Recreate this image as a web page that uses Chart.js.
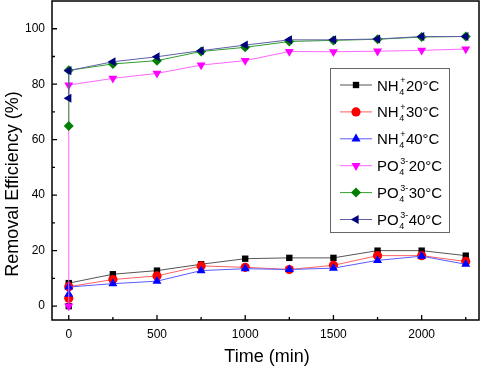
<!DOCTYPE html>
<html>
<head>
<meta charset="utf-8">
<script src="https://cdn.jsdelivr.net/npm/chart.js@4"></script>
<style>
html,body{margin:0;padding:0;background:#fff;}
#wrap{width:484px;height:367px;position:relative;}
</style>
</head>
<body>
<div id="wrap"><canvas id="c" width="484" height="367"></canvas></div>
<script>
// ---- data ----
const times = [0, 0, 250, 500, 750, 1000, 1250, 1500, 1750, 2000, 2250];
const nh4_20 = [0, 8.3, 11.5, 12.8, 15.1, 17.1, 17.4, 17.4, 20.0, 20.0, 18.2];
const nh4_30 = [2.8, 7.0, 9.6, 10.9, 14.5, 14.0, 13.2, 14.7, 18.2, 18.2, 16.1];
const nh4_40 = [4.3, 6.9, 8.1, 9.0, 12.8, 13.5, 13.2, 13.7, 16.5, 18.0, 15.1];
const po4_20 = [0, 79.7, 82.1, 83.9, 86.9, 88.5, 91.8, 91.7, 91.9, 92.2, 92.7];
const po4_30 = [64.9, 85.0, 87.3, 88.5, 91.8, 93.3, 95.4, 95.8, 96.2, 97.0, 97.2];
const po4_40 = [74.9, 84.9, 88.1, 89.9, 92.1, 94.1, 96.0, 96.0, 96.3, 97.2, 97.2];

const seriesNames = [
  {base: 'NH', sub: '4', sup: '+', rest: '20°C'},
  {base: 'NH', sub: '4', sup: '+', rest: '30°C'},
  {base: 'NH', sub: '4', sup: '+', rest: '40°C'},
  {base: 'PO', sub: '4', sup: '3-', rest: '20°C'},
  {base: 'PO', sub: '4', sup: '3-', rest: '30°C'},
  {base: 'PO', sub: '4', sup: '3-', rest: '40°C'}
];
const labels = ['NH4+20°C','NH4+30°C','NH4+40°C','PO43-20°C','PO43-30°C','PO43-40°C'];

const xMajor = [0, 500, 1000, 1500, 2000];
const xMinor = [250, 750, 1250, 1750, 2250];
const yMajor = [0, 20, 40, 60, 80, 100];
const yMinor = [10, 30, 50, 70, 90];

const values = [nh4_20, nh4_30, nh4_40, po4_20, po4_30, po4_40];
const markerColors = ['#000000', '#ff0000', '#0000ff', '#ff00ff', '#008000', '#000080'];
const lineColors = ['#555555', '#ff6060', '#5a5aff', '#ff66ff', '#30a030', '#6060a8'];
const styles = ['rect', 'circle', 'triangle', 'triangle', 'rectRot', 'triangle'];
const rotations = [0, 0, 0, 180, 0, -90];
const radii = [4.5, 4.6, 5.2, 5.2, 5, 5.2];

const datasets = values.map((v, i) => ({
  label: labels[i],
  data: v.map((y, j) => ({x: times[j], y: y})),
  showLine: true,
  borderColor: lineColors[i],
  borderWidth: 1,
  backgroundColor: markerColors[i],
  pointBackgroundColor: markerColors[i],
  pointBorderColor: markerColors[i],
  pointBorderWidth: 0,
  pointStyle: styles[i],
  pointRotation: rotations[i],
  pointRadius: radii[i],
  order: values.length - i,
  tension: 0
}));

const FONT = 'Arial, "Liberation Sans", sans-serif';
const AREA = {left: 52, top: 1, right: 479, bottom: 320};

function drawMarker(ctx, i, x, y) {
  Chart.helpers.drawPoint(ctx, {pointStyle: styles[i], rotation: rotations[i], radius: radii[i], borderWidth: 0}, x, y);
}

const fixArea = {
  id: 'fixArea',
  afterLayout(chart) {
    const ca = chart.chartArea;
    Object.assign(ca, AREA);
    ca.width = AREA.right - AREA.left;
    ca.height = AREA.bottom - AREA.top;
    const xs = chart.scales.x, ys = chart.scales.y;
    xs.left = AREA.left; xs.right = AREA.right; xs.width = ca.width;
    xs.top = AREA.bottom; xs.bottom = 367; xs.height = 367 - AREA.bottom;
    ys.top = AREA.top; ys.bottom = AREA.bottom; ys.height = ca.height;
    ys.left = 0; ys.right = AREA.left; ys.width = AREA.left;
    xs.configure(); ys.configure();
  }
};

const decor = {
  id: 'decor',
  afterDatasetsDraw(chart) {
    const ctx = chart.ctx;
    const a = chart.chartArea;
    const xs = chart.scales.x, ys = chart.scales.y;
    ctx.save();
    // frame
    ctx.strokeStyle = '#000';
    ctx.lineWidth = 1.5;
    ctx.strokeRect(a.left, a.top, a.right - a.left, a.bottom - a.top);
    // inward ticks
    ctx.lineWidth = 1.3;
    ctx.beginPath();
    xMajor.forEach(v => { const p = xs.getPixelForValue(v); ctx.moveTo(p, a.bottom); ctx.lineTo(p, a.bottom - 5); });
    xMinor.forEach(v => { const p = xs.getPixelForValue(v); ctx.moveTo(p, a.bottom); ctx.lineTo(p, a.bottom - 3); });
    yMajor.forEach(v => { const p = ys.getPixelForValue(v); ctx.moveTo(a.left, p); ctx.lineTo(a.left + 5, p); });
    yMinor.forEach(v => { const p = ys.getPixelForValue(v); ctx.moveTo(a.left, p); ctx.lineTo(a.left + 3, p); });
    ctx.stroke();

    // axis titles
    ctx.fillStyle = '#000';
    ctx.font = '18px ' + FONT;
    ctx.textAlign = 'center';
    ctx.textBaseline = 'middle';
    ctx.fillText('Time (min)', 267, 357);
    ctx.save();
    ctx.translate(13, 184);
    ctx.rotate(-Math.PI / 2);
    ctx.fillText('Removal Efficiency (%)', 0, 0);
    ctx.restore();

    // legend
    const bx = 330, by = 68, bw = 119, bh = 164;
    ctx.fillStyle = '#fff';
    ctx.fillRect(bx, by, bw, bh);
    ctx.strokeStyle = '#666';
    ctx.lineWidth = 1;
    ctx.strokeRect(bx + 0.5, by + 0.5, bw, bh);
    const y0 = 85, dy = 26.9;
    seriesNames.forEach((s, i) => {
      const yc = y0 + i * dy;
      ctx.strokeStyle = lineColors[i];
      ctx.lineWidth = 1;
      ctx.beginPath();
      ctx.moveTo(340, yc); ctx.lineTo(372, yc);
      ctx.stroke();
      ctx.fillStyle = markerColors[i];
      ctx.strokeStyle = markerColors[i];
      drawMarker(ctx, i, 356, yc);
      // text
      ctx.fillStyle = '#000';
      ctx.textAlign = 'left';
      ctx.textBaseline = 'alphabetic';
      const base = yc + 5.5;
      let x = 377;
      ctx.font = '15px ' + FONT;
      ctx.fillText(s.base, x, base);
      x += ctx.measureText(s.base).width + 0.5;
      ctx.font = '9px ' + FONT;
      ctx.fillText(s.sub, x, base + 4);
      const wsub = ctx.measureText(s.sub).width;
      ctx.fillText(s.sup, x + 1, base - 7.5);
      const wsup = ctx.measureText(s.sup).width + 1;
      x += Math.max(wsub, wsup) + 0.5;
      ctx.font = '15px ' + FONT;
      ctx.fillText(s.rest, x, base);
    });
    ctx.restore();
  }
};

new Chart(document.getElementById('c'), {
  type: 'scatter',
  data: {datasets},
  options: {
    responsive: false,
    animation: false,
    devicePixelRatio: 1,
    layout: {padding: {top: 1, right: 5, left: 0, bottom: 0}},
    plugins: {legend: {display: false}, tooltip: {enabled: false}},
    scales: {
      x: {
        type: 'linear', min: -95, max: 2325,
        grid: {display: false, drawTicks: false},
        border: {display: false},
        afterBuildTicks: s => { s.ticks = xMajor.map(v => ({value: v})); },
        afterFit: s => { s.height = 47; },
        ticks: {color: '#000', font: {size: 12, family: FONT}, padding: 7, maxRotation: 0,
                callback: v => String(v)}
      },
      y: {
        type: 'linear', min: -5, max: 110,
        grid: {display: false, drawTicks: false},
        border: {display: false},
        afterBuildTicks: s => { s.ticks = yMajor.map(v => ({value: v})); },
        afterFit: s => { s.width = 52; },
        ticks: {color: '#000', font: {size: 12, family: FONT}, padding: 7,
                callback: v => String(v)}
      }
    }
  },
  plugins: [fixArea, decor]
});
</script>
</body>
</html>
